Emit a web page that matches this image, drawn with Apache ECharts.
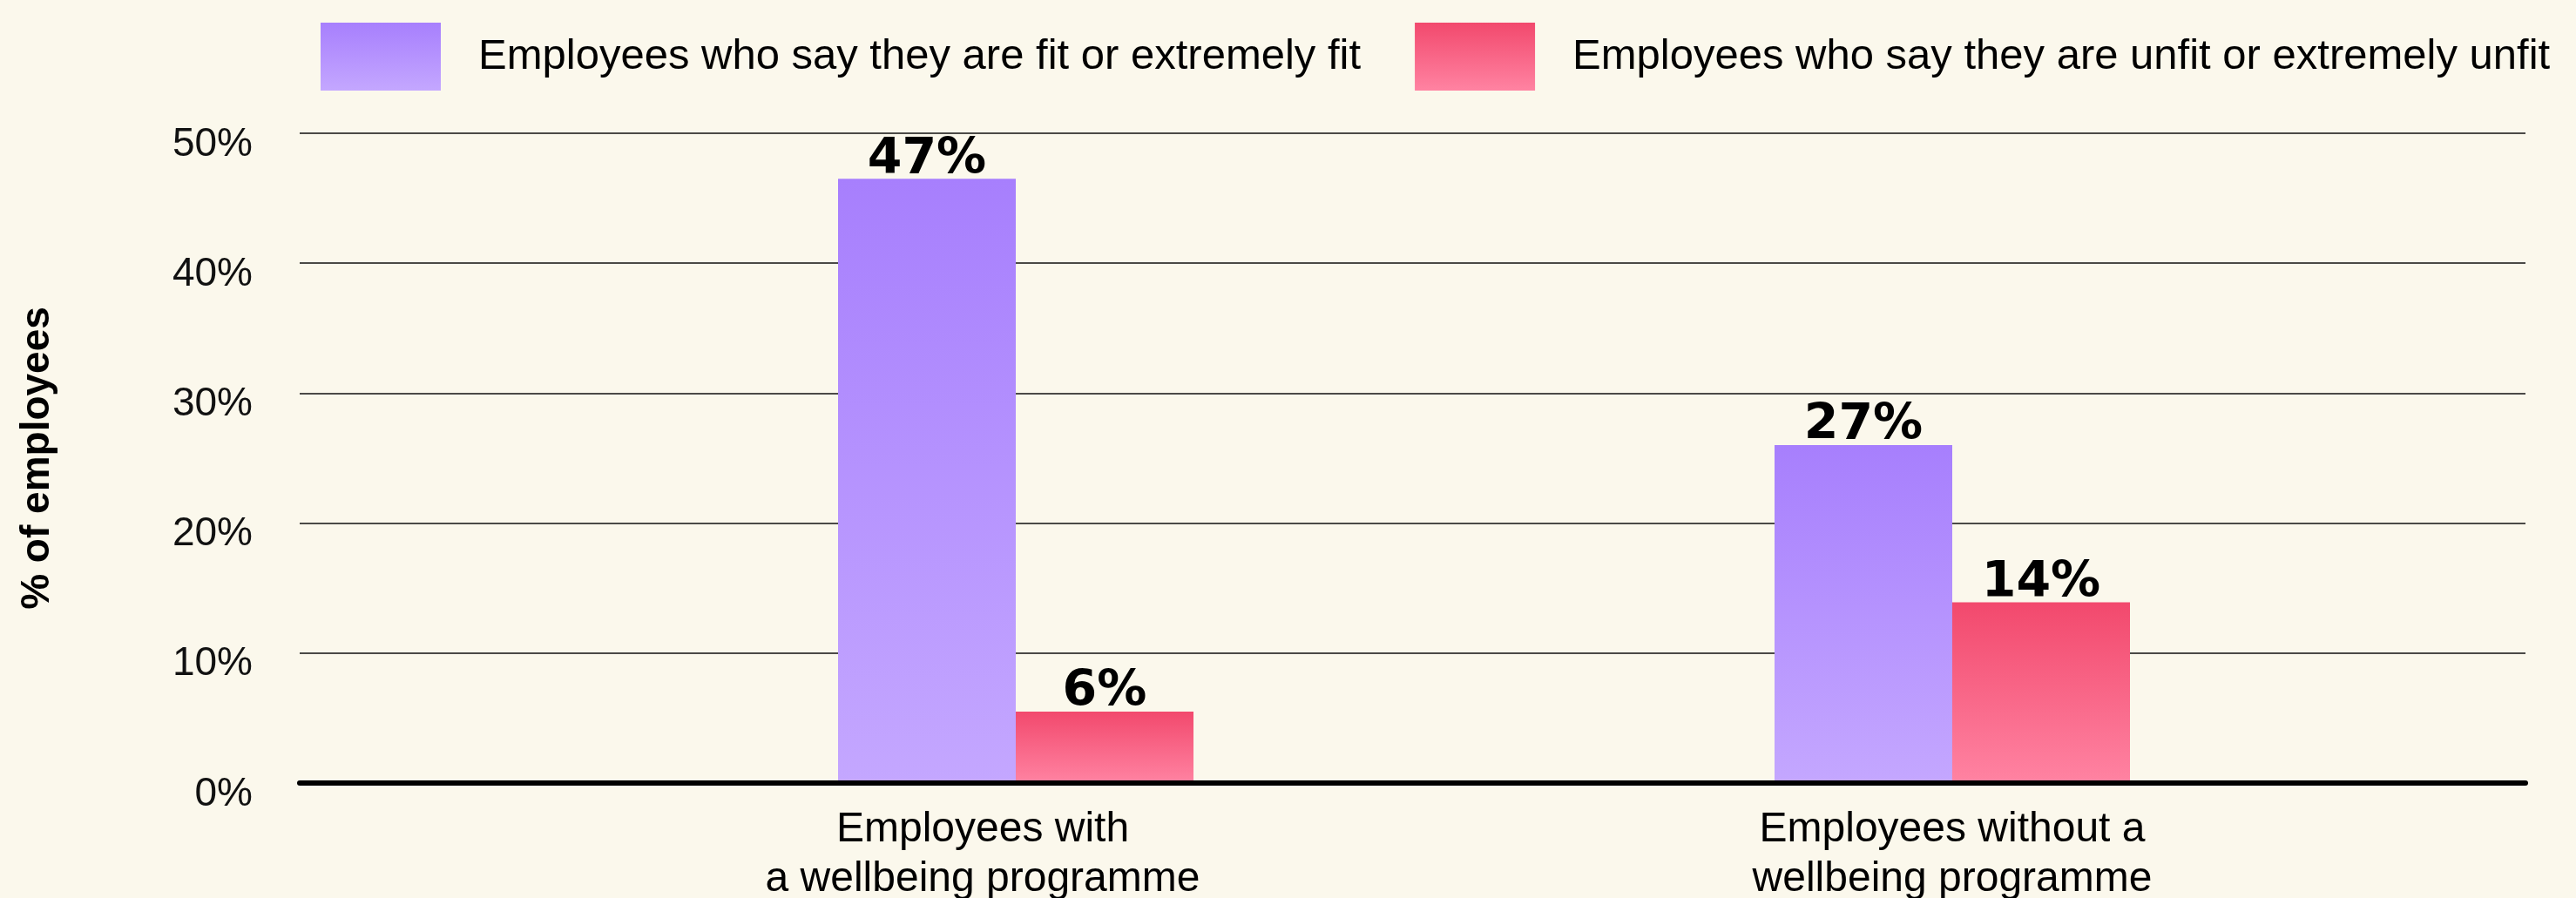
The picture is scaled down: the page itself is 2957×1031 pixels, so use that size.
<!DOCTYPE html>
<html>
<head>
<meta charset="utf-8">
<script src="https://cdn.jsdelivr.net/npm/echarts@6/dist/echarts.min.js"></script>
<style>
html,body{margin:0;padding:0;background:#fbf8ec;}
#chart{width:2957px;height:1031px;}
</style>
</head>
<body>
<div id="chart"></div>
<script>
const categories = ['Employees with\na wellbeing programme', 'Employees without a\nwellbeing programme'];
const seriesNames = ['Employees who say they are fit or extremely fit', 'Employees who say they are unfit or extremely unfit'];
const fitValues = [46.5, 26.0];
const unfitValues = [5.5, 13.9];
const fitLabels = ['47%', '27%'];
const unfitLabels = ['6%', '14%'];
const yMin = 0, yMax = 50, yInterval = 10;

const chart = echarts.init(document.getElementById('chart'));
const fitColor = new echarts.graphic.LinearGradient(0, 0, 0, 1, [
  {offset: 0, color: '#a77ffd'}, {offset: 1, color: '#c4a7ff'}]);
const unfitColor = new echarts.graphic.LinearGradient(0, 0, 0, 1, [
  {offset: 0, color: '#f2496d'}, {offset: 1, color: '#ff83a2'}]);
const FONT = "'Liberation Sans', Arial, sans-serif";
const valueLabel = (arr) => ({
  show: true, position: 'top', distance: -7,
  formatter: p => arr[p.dataIndex],
  fontFamily: "'DejaVu Sans', sans-serif", fontWeight: 900, fontSize: 57, color: '#000'
});

chart.setOption({
  backgroundColor: '#fbf8ec',
  animation: false,
  legend: {
    left: 363, top: 21,
    itemWidth: 138, itemHeight: 78, itemGap: 62,
    icon: 'rect',
    textStyle: {fontFamily: FONT, fontSize: 49, color: '#000', padding: [0, 0, 0, 38]},
    data: seriesNames
  },
  grid: [
    {left: 628.5, right: 178.5, top: 153, bottom: 132, outerBoundsMode: 'none', containLabel: false},
    {left: 344, right: 58, top: 153, bottom: 132, outerBoundsMode: 'none', containLabel: false}
  ],
  xAxis: [
    {
      type: 'category', gridIndex: 0,
      data: [
        {value: categories[0], textStyle: {padding: [0, 76, 0, 0]}},
        {value: categories[1]}
      ],
      axisLine: {show: false}, axisTick: {show: false}, splitLine: {show: false},
      axisLabel: {fontFamily: FONT, fontSize: 48, color: '#000', lineHeight: 57, margin: 25}
    },
    {
      type: 'value', gridIndex: 1, min: 0, max: 1, z: 10,
      axisLine: {show: true, lineStyle: {color: '#000', width: 6}},
      axisTick: {show: false}, axisLabel: {show: false}, splitLine: {show: false}
    }
  ],
  yAxis: [
    {
      type: 'value', gridIndex: 0, min: yMin, max: yMax, interval: yInterval,
      show: false, splitLine: {show: false}
    },
    {
      type: 'value', gridIndex: 1, min: yMin, max: yMax, interval: yInterval,
      axisLine: {show: false}, axisTick: {show: false},
      axisLabel: {formatter: '{value}%', fontFamily: FONT, fontSize: 46, color: '#111', margin: 54,
                  verticalAlign: 'top', lineHeight: 26},
      splitLine: {show: true, lineStyle: {color: '#111', width: 1.5}},
      name: '% of employees', nameLocation: 'middle', nameGap: 278,
      nameTextStyle: {fontFamily: FONT, fontWeight: 'bold', fontSize: 46, color: '#000'}
    }
  ],
  series: [
    {
      name: seriesNames[0], type: 'bar', xAxisIndex: 0, yAxisIndex: 0,
      data: fitValues, barWidth: 204, barGap: '0%',
      itemStyle: {color: fitColor},
      label: valueLabel(fitLabels)
    },
    {
      name: seriesNames[1], type: 'bar', xAxisIndex: 0, yAxisIndex: 0,
      data: unfitValues, barWidth: 204, barGap: '0%',
      itemStyle: {color: unfitColor},
      label: valueLabel(unfitLabels)
    }
  ]
});
</script>
</body>
</html>
